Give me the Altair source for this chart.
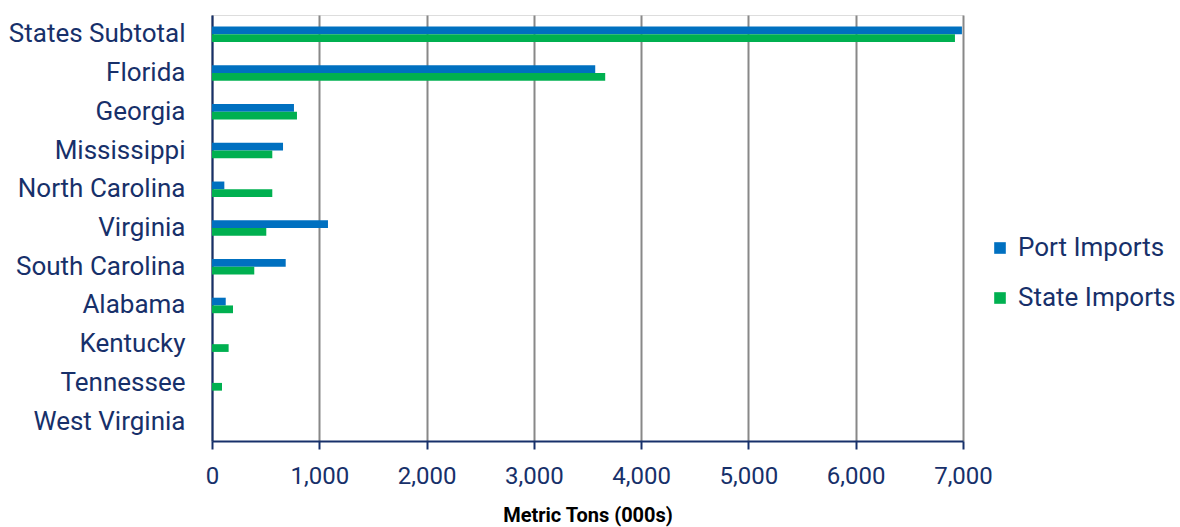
import altair as alt
import pandas as pd

states = ["States Subtotal", "Florida", "Georgia", "Mississippi", "North Carolina",
          "Virginia", "South Carolina", "Alabama", "Kentucky", "Tennessee", "West Virginia"]
port_imports = [6990, 3572, 764, 662, 115, 1081, 687, 128, 0, 0, 0]
state_imports = [6925, 3665, 792, 562, 562, 506, 394, 196, 155, 93, 0]
series = ["Port Imports", "State Imports"]
colors = ["#0070C0", "#00B050"]
x_ticks = [0, 1000, 2000, 3000, 4000, 5000, 6000, 7000]

rows = []
for s, p, si in zip(states, port_imports, state_imports):
    rows.append({"state": s, "series": series[0], "value": p})
    rows.append({"state": s, "series": series[1], "value": si})
df = pd.DataFrame(rows)

navy = "#17306a"
font = "Roboto"

chart = alt.Chart(df).mark_bar().encode(
    y=alt.Y("state:N", sort=states,
            scale=alt.Scale(paddingInner=0.6, paddingOuter=0.3),
            axis=alt.Axis(title=None, ticks=False, labelFontSize=26, labelColor=navy,
                          labelFont=font, labelPadding=27, domainColor=navy,
                          domainWidth=2, grid=False, labelLimit=300)),
    yOffset=alt.YOffset("series:N", sort=series, scale=alt.Scale(paddingInner=0, paddingOuter=0)),
    x=alt.X("value:Q", scale=alt.Scale(domain=[0, 7000], nice=False),
            axis=alt.Axis(values=x_ticks, format=",.0f", title="Metric Tons (000s)",
                          titleFont=font, titleFontSize=20, titleFontWeight="bold",
                          titleColor="#000000", titlePadding=17,
                          labelFont=font, labelFontSize=24, labelColor=navy, labelPadding=15,
                          labelFlush=False,
                          tickSize=8, tickWidth=2, tickColor=navy,
                          domainColor=navy, domainWidth=2,
                          grid=True, gridColor="#888888", gridWidth=2)),
    color=alt.Color("series:N", sort=series,
                    scale=alt.Scale(domain=series, range=colors),
                    legend=alt.Legend(title=None, orient="none", legendX=775, legendY=220,
                                      symbolType="square", symbolSize=135,
                                      labelFont=font, labelFontSize=26, labelColor=navy,
                                      labelOffset=5, rowPadding=24, padding=0,
                                      symbolStrokeWidth=0)),
).properties(
    width=751, height=426,
    autosize=alt.AutoSizeParams(type="none"),
    padding={"left": 212, "top": 15, "right": 217, "bottom": 86},
).configure_view(stroke=None).configure(background="white")

chart.save("out.html", embed_options={"renderer": "svg", "actions": False})
